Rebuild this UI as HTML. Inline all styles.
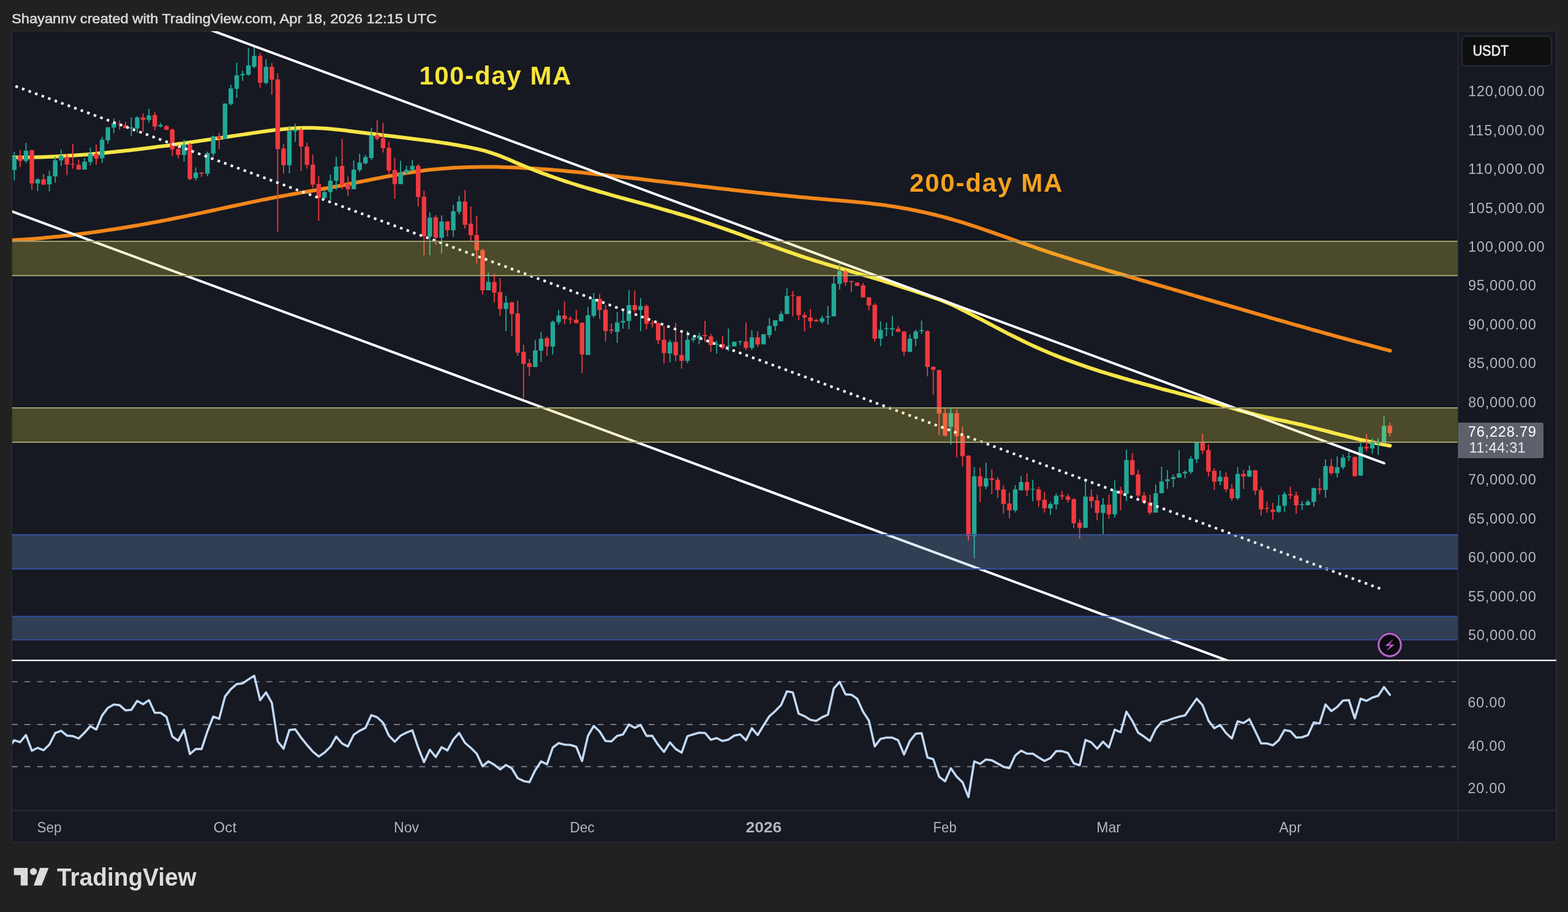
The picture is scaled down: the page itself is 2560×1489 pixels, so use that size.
<!DOCTYPE html><html><head><meta charset="utf-8"><title>BTC/USDT chart</title>
<style>html,body{margin:0;padding:0;background:#212121;width:2560px;height:1489px;overflow:hidden}svg{display:block}text{font-family:'Liberation Sans', Arial, Helvetica, sans-serif}</style></head><body>
<svg xmlns="http://www.w3.org/2000/svg" width="2560" height="1489" viewBox="0 0 2560 1489">
<defs><clipPath id="mainclip"><rect x="20" y="51" width="2360" height="1026"/></clipPath><clipPath id="rsiclip"><rect x="20" y="1079" width="2360" height="244"/></clipPath></defs>
<rect x="0" y="0" width="2560" height="1489" fill="#212121"/>
<text x="19" y="37.7" font-size="22.6" fill="#dadada" stroke="#dadada" stroke-width="0.55" textLength="694" lengthAdjust="spacingAndGlyphs">Shayannv created with TradingView.com, Apr 18, 2026 12:15 UTC</text>
<rect x="19.2" y="50.6" width="2521.6" height="1324.4" fill="#161922" stroke="#2b2d33" stroke-width="1.5"/>
<g clip-path="url(#mainclip)">
<path d="M19,392.3 C21,392.2 27,391.9 31,391.6 C35,391.4 39,391.1 43,390.8 C47,390.5 51,390.2 55,389.9 C59,389.6 63,389.2 67,388.9 C71,388.5 75,388.2 79,387.8 C83,387.4 87,387 91,386.6 C95,386.2 99,385.7 103,385.3 C107,384.9 111,384.5 115,384 C119,383.5 123,383 127,382.5 C131,382 135,381.5 139,381 C143,380.5 147,379.9 151,379.4 C155,378.8 159,378.3 163,377.7 C167,377.1 171,376.5 175,375.9 C179,375.3 183,374.7 187,374.1 C191,373.5 195,372.9 199,372.2 C203,371.5 207,370.9 211,370.2 C215,369.5 219,368.9 223,368.2 C227,367.5 231,366.8 235,366.1 C239,365.4 243,364.6 247,363.9 C251,363.2 255,362.4 259,361.7 C263,360.9 267,360.2 271,359.4 C275,358.6 279,357.8 283,357 C287,356.2 291,355.4 295,354.6 C299,353.8 303,352.9 307,352.1 C311,351.3 315,350.4 319,349.6 C323,348.8 327,348 331,347.1 C335,346.2 339,345.4 343,344.5 C347,343.6 351,342.8 355,341.9 C359,341 363,340.2 367,339.3 C371,338.4 375,337.6 379,336.7 C383,335.8 387,335 391,334.2 C395,333.4 399,332.5 403,331.6 C407,330.8 411,329.9 415,329.1 C419,328.3 423,327.4 427,326.6 C431,325.8 435,325.1 439,324.3 C443,323.5 447,322.7 451,321.9 C455,321.1 459,320.4 463,319.7 C467,319 471,318.2 475,317.5 C479,316.8 483,316.1 487,315.4 C491,314.7 495,314 499,313.3 C503,312.6 507,311.9 511,311.2 C515,310.5 519,309.8 523,309.1 C527,308.4 531,307.7 535,307 C539,306.3 543,305.5 547,304.8 C551,304.1 555,303.4 559,302.6 C563,301.8 567,301 571,300.2 C575,299.4 579,298.6 583,297.8 C587,297 591,296.2 595,295.4 C599,294.6 603,293.8 607,293 C611,292.2 615,291.4 619,290.6 C623,289.8 627,289.1 631,288.3 C635,287.6 639,286.8 643,286.1 C647,285.4 651,284.7 655,284 C659,283.3 663,282.6 667,282 C671,281.4 675,280.8 679,280.2 C683,279.6 687,279.1 691,278.6 C695,278.1 699,277.6 703,277.1 C707,276.7 711,276.3 715,275.9 C719,275.5 723,275.2 727,274.9 C731,274.6 735,274.4 739,274.1 C743,273.9 747,273.6 751,273.4 C755,273.2 759,273.1 763,273 C767,272.9 771,272.8 775,272.7 C779,272.6 783,272.5 787,272.5 C791,272.5 795,272.5 799,272.5 C803,272.5 807,272.5 811,272.6 C815,272.7 819,272.8 823,272.9 C827,273 831,273.1 835,273.3 C839,273.5 843,273.6 847,273.8 C851,274 855,274.2 859,274.4 C863,274.6 867,274.9 871,275.1 C875,275.4 879,275.6 883,275.9 C887,276.2 891,276.5 895,276.8 C899,277.1 903,277.5 907,277.8 C911,278.1 915,278.4 919,278.8 C923,279.2 927,279.6 931,280 C935,280.4 939,280.7 943,281.1 C947,281.5 951,281.9 955,282.3 C959,282.7 963,283.2 967,283.6 C971,284 975,284.5 979,284.9 C983,285.3 987,285.8 991,286.2 C995,286.6 999,287.1 1003,287.5 C1007,287.9 1011,288.4 1015,288.9 C1019,289.4 1023,289.9 1027,290.3 C1031,290.8 1035,291.2 1039,291.6 C1043,292.1 1047,292.5 1051,293 C1055,293.5 1059,293.9 1063,294.4 C1067,294.9 1071,295.4 1075,295.9 C1079,296.4 1083,296.8 1087,297.3 C1091,297.8 1095,298.2 1099,298.7 C1103,299.2 1107,299.6 1111,300.1 C1115,300.6 1119,301 1123,301.5 C1127,302 1131,302.5 1135,303 C1139,303.5 1143,303.9 1147,304.4 C1151,304.9 1155,305.3 1159,305.8 C1163,306.3 1167,306.7 1171,307.2 C1175,307.7 1179,308.1 1183,308.6 C1187,309.1 1191,309.6 1195,310 C1199,310.4 1203,310.9 1207,311.3 C1211,311.8 1215,312.2 1219,312.7 C1223,313.1 1227,313.6 1231,314 C1235,314.4 1239,314.9 1243,315.3 C1247,315.7 1251,316.2 1255,316.6 C1259,317 1263,317.4 1267,317.8 C1271,318.2 1275,318.7 1279,319.1 C1283,319.5 1287,319.9 1291,320.3 C1295,320.7 1299,321 1303,321.4 C1307,321.8 1311,322.2 1315,322.6 C1319,323 1323,323.4 1327,323.7 C1331,324 1335,324.3 1339,324.7 C1343,325.1 1347,325.4 1351,325.8 C1355,326.2 1359,326.5 1363,326.8 C1367,327.1 1371,327.5 1375,327.8 C1379,328.1 1383,328.5 1387,328.8 C1391,329.1 1395,329.5 1399,329.9 C1403,330.3 1407,330.7 1411,331.1 C1415,331.5 1419,331.9 1423,332.4 C1427,332.8 1431,333.3 1435,333.8 C1439,334.3 1443,334.8 1447,335.4 C1451,336 1455,336.6 1459,337.2 C1463,337.8 1467,338.5 1471,339.2 C1475,339.9 1479,340.6 1483,341.3 C1487,342.1 1491,342.9 1495,343.7 C1499,344.5 1503,345.3 1507,346.2 C1511,347.1 1515,348.1 1519,349 C1523,349.9 1527,350.9 1531,351.9 C1535,352.9 1539,353.9 1543,355 C1547,356.1 1551,357.2 1555,358.4 C1559,359.5 1563,360.7 1567,361.9 C1571,363.1 1575,364.4 1579,365.7 C1583,367 1587,368.2 1591,369.5 C1595,370.8 1599,372.1 1603,373.5 C1607,374.9 1611,376.2 1615,377.6 C1619,379 1623,380.4 1627,381.8 C1631,383.2 1635,384.6 1639,386 C1643,387.4 1647,388.9 1651,390.3 C1655,391.7 1659,393.1 1663,394.5 C1667,395.9 1671,397.4 1675,398.8 C1679,400.2 1683,401.6 1687,403 C1691,404.4 1695,405.8 1699,407.1 C1703,408.5 1707,409.8 1711,411.1 C1715,412.4 1719,413.8 1723,415.1 C1727,416.4 1731,417.6 1735,418.9 C1739,420.2 1743,421.4 1747,422.7 C1751,424 1755,425.2 1759,426.5 C1763,427.8 1767,429 1771,430.2 C1775,431.4 1779,432.6 1783,433.8 C1787,435 1791,436.2 1795,437.4 C1799,438.6 1803,439.8 1807,441 C1811,442.2 1815,443.3 1819,444.5 C1823,445.7 1827,446.8 1831,448 C1835,449.2 1839,450.3 1843,451.5 C1847,452.7 1851,453.8 1855,455 C1859,456.2 1863,457.3 1867,458.5 C1871,459.7 1875,460.8 1879,462 C1883,463.2 1887,464.4 1891,465.5 C1895,466.6 1899,467.8 1903,468.9 C1907,470 1911,471.2 1915,472.4 C1919,473.6 1923,474.7 1927,475.9 C1931,477.1 1935,478.2 1939,479.4 C1943,480.6 1947,481.8 1951,483 C1955,484.2 1959,485.3 1963,486.5 C1967,487.7 1971,488.8 1975,490 C1979,491.2 1983,492.3 1987,493.5 C1991,494.7 1995,495.8 1999,497 C2003,498.2 2007,499.4 2011,500.5 C2015,501.6 2019,502.8 2023,503.9 C2027,505 2031,506.2 2035,507.4 C2039,508.6 2043,509.7 2047,510.9 C2051,512.1 2055,513.2 2059,514.4 C2063,515.5 2067,516.6 2071,517.8 C2075,518.9 2079,520.1 2083,521.3 C2087,522.4 2091,523.6 2095,524.7 C2099,525.8 2103,527 2107,528.1 C2111,529.2 2115,530.4 2119,531.5 C2123,532.6 2127,533.8 2131,534.9 C2135,536 2139,537.2 2143,538.3 C2147,539.4 2151,540.6 2155,541.7 C2159,542.8 2163,543.9 2167,545 C2171,546.1 2175,547.2 2179,548.3 C2183,549.4 2187,550.5 2191,551.6 C2195,552.7 2199,553.8 2203,554.9 C2207,556 2211,557 2215,558.1 C2219,559.2 2223,560.2 2227,561.3 C2231,562.4 2235,563.4 2239,564.5 C2243,565.6 2247,566.6 2251,567.7 C2255,568.8 2259.9,570.1 2263,570.9 C2266.1,571.7 2268.5,572.3 2269.6,572.6" fill="none" stroke="#f2861a" stroke-width="6" stroke-linecap="round" stroke-linejoin="round"/>
<path d="M19,257 C21,257 27,257 31,257 C35,257 39,256.9 43,256.9 C47,256.8 51,256.8 55,256.7 C59,256.6 63,256.5 67,256.4 C71,256.3 75,256.2 79,256 C83,255.8 87,255.6 91,255.4 C95,255.2 99,255 103,254.8 C107,254.6 111,254.3 115,254.1 C119,253.8 123,253.6 127,253.3 C131,253 135,252.7 139,252.4 C143,252.1 147,251.8 151,251.4 C155,251.1 159,250.7 163,250.3 C167,249.9 171,249.6 175,249.2 C179,248.8 183,248.4 187,248 C191,247.6 195,247.1 199,246.7 C203,246.3 207,245.8 211,245.4 C215,245 219,244.5 223,244 C227,243.5 231,243 235,242.5 C239,242 243,241.5 247,241 C251,240.5 255,239.9 259,239.4 C263,238.9 267,238.4 271,237.9 C275,237.4 279,236.8 283,236.2 C287,235.6 291,235.1 295,234.6 C299,234.1 303,233.5 307,232.9 C311,232.3 315,231.7 319,231.1 C323,230.5 327,230 331,229.4 C335,228.8 339,228.2 343,227.6 C347,227 351,226.4 355,225.8 C359,225.2 363,224.7 367,224.1 C371,223.5 375,222.9 379,222.3 C383,221.7 387,221.1 391,220.5 C395,219.9 399,219.3 403,218.7 C407,218.1 411,217.5 415,216.9 C419,216.3 423,215.7 427,215.1 C431,214.5 435,214 439,213.5 C443,213 447,212.4 451,212 C455,211.6 459,211.2 463,210.8 C467,210.4 471,210 475,209.7 C479,209.4 483,209.2 487,209 C491,208.8 495,208.7 499,208.7 C503,208.7 507,208.7 511,208.8 C515,208.9 519,209.1 523,209.3 C527,209.5 531,209.8 535,210.1 C539,210.4 543,210.8 547,211.2 C551,211.6 555,212.1 559,212.5 C563,212.9 567,213.4 571,213.9 C575,214.4 579,214.9 583,215.4 C587,215.9 591,216.5 595,217 C599,217.5 603,218 607,218.5 C611,219 615,219.4 619,219.9 C623,220.4 627,220.9 631,221.4 C635,221.9 639,222.3 643,222.8 C647,223.3 651,223.7 655,224.2 C659,224.7 663,225.2 667,225.7 C671,226.2 675,226.7 679,227.2 C683,227.7 687,228.2 691,228.7 C695,229.2 699,229.8 703,230.3 C707,230.9 711,231.4 715,232 C719,232.6 723,233.2 727,233.8 C731,234.4 735,235 739,235.7 C743,236.3 747,237 751,237.7 C755,238.4 759,239.1 763,239.9 C767,240.7 771,241.5 775,242.4 C779,243.3 783,244.2 787,245.2 C791,246.2 795,247.4 799,248.6 C803,249.8 807,251.2 811,252.6 C815,254 819,255.6 823,257.2 C827,258.8 831,260.6 835,262.3 C839,264 843,265.8 847,267.5 C851,269.2 855,270.9 859,272.5 C863,274.1 867,275.7 871,277.3 C875,278.9 879,280.4 883,281.9 C887,283.4 891,284.9 895,286.3 C899,287.7 903,289.1 907,290.5 C911,291.9 915,293.3 919,294.6 C923,295.9 927,297.2 931,298.5 C935,299.8 939,301.1 943,302.3 C947,303.6 951,304.8 955,306 C959,307.2 963,308.3 967,309.5 C971,310.7 975,311.9 979,313 C983,314.1 987,315.3 991,316.4 C995,317.5 999,318.7 1003,319.8 C1007,320.9 1011,322 1015,323.1 C1019,324.2 1023,325.3 1027,326.4 C1031,327.5 1035,328.5 1039,329.6 C1043,330.7 1047,331.8 1051,332.9 C1055,334 1059,335.1 1063,336.2 C1067,337.3 1071,338.5 1075,339.6 C1079,340.7 1083,341.9 1087,343 C1091,344.1 1095,345.3 1099,346.5 C1103,347.7 1107,348.8 1111,350 C1115,351.2 1119,352.5 1123,353.7 C1127,354.9 1131,356.1 1135,357.4 C1139,358.7 1143,360 1147,361.3 C1151,362.6 1155,363.9 1159,365.3 C1163,366.7 1167,368.1 1171,369.5 C1175,370.9 1179,372.3 1183,373.7 C1187,375.1 1191,376.5 1195,377.9 C1199,379.3 1203,380.8 1207,382.2 C1211,383.6 1215,385.1 1219,386.6 C1223,388.1 1227,389.6 1231,391 C1235,392.4 1239,393.9 1243,395.3 C1247,396.8 1251,398.2 1255,399.7 C1259,401.1 1263,402.6 1267,404 C1271,405.4 1275,406.9 1279,408.3 C1283,409.7 1287,411 1291,412.4 C1295,413.8 1299,415.2 1303,416.6 C1307,418 1311,419.3 1315,420.6 C1319,421.9 1323,423.1 1327,424.4 C1331,425.7 1335,427 1339,428.2 C1343,429.4 1347,430.6 1351,431.8 C1355,433 1359,434.2 1363,435.4 C1367,436.6 1371,437.8 1375,438.9 C1379,440 1383,441.1 1387,442.3 C1391,443.5 1395,444.6 1399,445.8 C1403,447 1407,448.1 1411,449.3 C1415,450.5 1419,451.7 1423,452.9 C1427,454.1 1431,455.3 1435,456.5 C1439,457.7 1443,459 1447,460.3 C1451,461.6 1455,462.8 1459,464.1 C1463,465.4 1467,466.8 1471,468.1 C1475,469.4 1479,470.7 1483,472 C1487,473.3 1491,474.7 1495,476 C1499,477.3 1503,478.7 1507,480 C1511,481.3 1515,482.6 1519,484 C1523,485.4 1527,486.7 1531,488.1 C1535,489.5 1539,491 1543,492.6 C1547,494.2 1551,496 1555,497.9 C1559,499.8 1563,501.8 1567,503.8 C1571,505.8 1575,507.8 1579,509.8 C1583,511.8 1587,513.9 1591,516 C1595,518.1 1599,520.1 1603,522.2 C1607,524.3 1611,526.4 1615,528.5 C1619,530.6 1623,532.7 1627,534.8 C1631,536.9 1635,539 1639,541.1 C1643,543.2 1647,545.3 1651,547.3 C1655,549.3 1659,551.3 1663,553.3 C1667,555.3 1671,557.2 1675,559.1 C1679,561 1683,562.9 1687,564.7 C1691,566.5 1695,568.4 1699,570.1 C1703,571.9 1707,573.5 1711,575.2 C1715,576.9 1719,578.5 1723,580.1 C1727,581.7 1731,583.4 1735,584.9 C1739,586.4 1743,587.9 1747,589.4 C1751,590.9 1755,592.3 1759,593.7 C1763,595.1 1767,596.5 1771,597.9 C1775,599.3 1779,600.6 1783,601.9 C1787,603.2 1791,604.5 1795,605.8 C1799,607.1 1803,608.3 1807,609.5 C1811,610.7 1815,612 1819,613.2 C1823,614.4 1827,615.6 1831,616.7 C1835,617.9 1839,619 1843,620.1 C1847,621.2 1851,622.4 1855,623.5 C1859,624.6 1863,625.7 1867,626.8 C1871,627.9 1875,628.9 1879,630 C1883,631.1 1887,632.2 1891,633.3 C1895,634.4 1899,635.5 1903,636.5 C1907,637.5 1911,638.6 1915,639.6 C1919,640.6 1923,641.7 1927,642.8 C1931,643.9 1935,644.9 1939,646 C1943,647.1 1947,648.1 1951,649.2 C1955,650.3 1959,651.4 1963,652.5 C1967,653.6 1971,654.7 1975,655.8 C1979,656.9 1983,658.1 1987,659.2 C1991,660.3 1995,661.5 1999,662.6 C2003,663.8 2007,664.9 2011,666.1 C2015,667.3 2019,668.5 2023,669.6 C2027,670.8 2031,671.9 2035,673 C2039,674.1 2043,675.2 2047,676.2 C2051,677.2 2055,678.2 2059,679.2 C2063,680.2 2067,681.1 2071,682 C2075,682.9 2079,683.8 2083,684.6 C2087,685.4 2091,686.2 2095,687 C2099,687.8 2103,688.7 2107,689.6 C2111,690.5 2115,691.4 2119,692.3 C2123,693.2 2127,694.1 2131,695.1 C2135,696.1 2139,697.1 2143,698.1 C2147,699.1 2151,700.1 2155,701.1 C2159,702.1 2163,703.2 2167,704.2 C2171,705.2 2175,706.3 2179,707.3 C2183,708.3 2187,709.4 2191,710.4 C2195,711.4 2199,712.4 2203,713.4 C2207,714.4 2211,715.3 2215,716.3 C2219,717.3 2223,718.3 2227,719.2 C2231,720.1 2235,720.9 2239,721.8 C2243,722.6 2247,723.5 2251,724.3 C2255,725.1 2259.9,726 2263,726.6 C2266.1,727.2 2268.3,727.5 2269.4,727.7" fill="none" stroke="#f7e548" stroke-width="6" stroke-linecap="round" stroke-linejoin="round"/>
<path d="M23.3 247.7V294.5M42.4 233.3V266M61.5 291.2V311.9M80.6 278.6V312.5M90.2 255.7V298.3M99.8 244.2V271M138 258.4V277M147.5 241V270M166.7 223.5V266M176.2 207.7V234.4M185.8 193.5V217.5M214.4 191.8V222.4M224 190.1V216.3M243.1 177.5V200M262.2 200.4V208.1M300.5 227.8V263.8M319.6 273.6V294.9M338.7 247.4V287.5M348.2 221.2V255.6M367.4 168.8V226.9M376.9 138.2V172.1M386.5 102.2V159.8M396 115.6V132M405.6 78.3V123.5M415.1 73.9V111.5M434.3 97.3V137.7M472.5 205.4V282.9M482 202.1V231.6M529.8 311.3V325.5M539.4 285.1V326.6M548.9 256V310.2M577.6 262.1V309.1M587.2 251.2V280.7M596.7 252.7V268.7M606.3 208.4V261.6M654.1 262.4V300.6M663.6 270.4V284.6M673.2 261.6V279.3M701.8 346.7V416.7M721 351.6V414M740.1 334.3V386.6M749.6 319.7V350.2M797.4 445V474M826.1 482.8V540.5M873.9 555.4V599.3M883.4 541.4V591.1M902.5 523.3V578.7M912.1 506V530M959.9 501.3V579.6M969.4 478.4V518.5M1007.7 509.4V559.7M1017.2 506.9V536.4M1026.8 473.4V537.6M1045.9 486.7V540.7M1093.7 554.8V591.6M1122.4 540.1V592.9M1131.9 548V558.5M1141.5 543.1V562.2M1170.1 556.3V577.2M1189.3 536.6V573.5M1198.8 557.5V565.5M1208.4 555.7V563.6M1227.5 539.1V571.6M1246.6 545.2V562.2M1256.2 519.2V552M1265.7 522.5V540.3M1275.3 508.2V524.4M1284.8 470.3V512.7M1342.2 515.2V528M1351.7 499.8V529.9M1361.3 449.7V517.2M1370.8 431.3V472.8M1437.7 524.4V565.3M1447.3 526.4V549M1456.8 515.8V549M1485.5 545.9V574.6M1495.1 538.3V565.3M1504.6 523.4V545.3M1552.4 665.8V726M1590.6 762.3V911.3M1609.8 755.6V798.5M1657.5 791.9V836.8M1667.1 777.5V800.5M1686.2 783.3V818.6M1714.9 819.6V840.6M1724.4 805.8V832M1772.2 783.9V861.7M1800.9 813.2V871.9M1820 784.3V845.3M1839.1 734.1V818M1886.9 790.7V837.1M1896.5 762.1V805.3M1906 767.5V798.2M1915.6 774.8V795.5M1925.1 735V779.8M1934.7 768.1V781M1944.3 744.8V773.7M1953.8 721.1V755.9M1992 768.1V792.1M2020.7 762.6V816.6M2039.8 759.9V779.2M2087.6 808V837.5M2097.2 803.1V835.7M2125.8 818.3V832.6M2135.4 816.6V825.1M2145 795.7V827.1M2164.1 750V812.8M2183.2 745.3V779.4M2192.7 741.9V766.4M2202.3 737.8V752.8M2221.4 722.1V776.6M2240.5 715.9V740.5M2250.1 715.3V742.5M2259.6 679.1V724.1" stroke="#22a897" stroke-width="1.8" fill="none"/>
<path d="M32.9 244.8V272.6M52 244.8V309.7M71.1 284V301.6M109.3 250.8V286.3M118.9 235V275.3M128.4 260.6V277M157.1 236V268.8M195.3 196.7V212M204.9 199V209.3M233.6 185.2V215.5M252.7 183.1V213M271.8 204.4V211.9M281.3 209.8V254.8M290.9 236.8V258.9M310 233.5V294M329.1 281V289.1M357.8 217.1V243.3M424.7 86.4V143.1M443.8 102.8V154.7M453.4 119.8V378.3M462.9 235.5V283.5M491.6 208.6V279.6M501.2 232.7V275.2M510.7 252.3V306.9M520.3 287.2V360.4M558.5 226.8V309.1M568 288.3V320M615.8 196.3V229.6M625.4 200.4V249.1M634.9 231.4V283.7M644.5 257.7V324.5M682.7 268.1V336.9M692.3 311.2V416.7M711.4 351.1V399.9M730.5 360.9V386.6M759.2 310.3V373.3M768.7 336.9V392.8M778.3 352V430M787.9 406.4V480.9M807 446.9V493.7M816.5 454.1V516M835.6 492.7V549M845.2 491.2V581M854.8 563V650.3M864.3 586.3V614M893 549.6V581M921.7 492.3V529M931.2 516.6V529M940.8 506V527.5M950.3 526.1V609.2M979 479.9V520.4M988.6 497.7V557.2M998.1 528.2V545M1036.3 474.1V510.6M1055.5 497.1V537.6M1065 523.5V534.5M1074.6 525.9V562.2M1084.1 531.5V593.2M1103.2 527.2V589.8M1112.8 540.1V602.1M1151 524.1V557.9M1160.6 545.3V574.4M1179.7 548.3V570.4M1217.9 526.2V571.6M1237 540.9V566.1M1294.4 475.2V516.4M1303.9 483.6V522.5M1313.5 510.2V540.9M1323.1 504.7V536M1332.6 520.7V525.6M1380.4 440.5V466.7M1390 457.9V476.9M1399.5 460.9V466.7M1409.1 462V485.5M1418.6 485.1V507M1428.2 495.3V558.2M1466.4 532.2V541.8M1476 540.8V580.7M1514.2 539.8V614.5M1523.7 598.1V644.2M1533.3 603.8V710.7M1542.9 665.8V712.6M1562 668.7V746.6M1571.5 696.4V761.3M1581.1 743.2V882.6M1600.2 763.2V819.6M1619.3 766V807.1M1628.9 778.5V812.9M1638.4 792.8V838.7M1648 804.3V846.3M1676.7 772.8V810M1695.8 794.7V827.2M1705.3 803.3V836.8M1734 801.4V815.7M1743.6 806.4V820.7M1753.1 813.2V862.3M1762.7 848V879.4M1781.8 798.9V828.9M1791.3 807.8V849.4M1810.5 807.8V847.3M1829.6 794.8V833M1848.7 739.8V776.4M1858.2 767.1V812.6M1867.8 803V823.5M1877.4 807.8V840.5M1963.4 708.6V741.1M1972.9 725.8V778M1982.5 764.5V800.1M2001.6 771.2V803.1M2011.2 790.2V817.9M2030.3 767.3V798.2M2049.4 766.9V808.3M2058.9 795.5V841.8M2068.5 818.8V836.9M2078.1 820.9V848.6M2106.7 794.4V814.8M2116.3 802.6V838.7M2154.5 780.7V806.7M2173.6 749.4V775.3M2211.9 745.3V778.7M2231 708.4V737.1M2269.2 690V712.5" stroke="#f0393f" stroke-width="1.8" fill="none"/>
<path d="M19.6 255.2h7.4v22.3h-7.4zM38.7 245.9h7.4v16.9h-7.4zM57.8 292.8h7.4v6.6h-7.4zM76.9 287.4h7.4v13.6h-7.4zM86.5 261.7h7.4v26.2h-7.4zM96.1 254h7.4v7.7h-7.4zM134.3 263.9h7.4v13.1h-7.4zM143.8 250.8h7.4v13.6h-7.4zM163 227.9h7.4v30.5h-7.4zM172.5 207.7h7.4v21.3h-7.4zM182.1 201h7.4v7.2h-7.4zM210.7 208h7.4v1.8h-7.4zM220.3 191.8h7.4v18h-7.4zM239.4 188.5h7.4v7.3h-7.4zM258.5 204h7.4v2.2h-7.4zM296.8 236h7.4v17.1h-7.4zM315.9 281.8h7.4v9h-7.4zM335 249.9h7.4v33.5h-7.4zM344.5 222.8h7.4v27.9h-7.4zM363.7 169.3h7.4v57.6h-7.4zM373.2 144.3h7.4v25.4h-7.4zM382.8 123h7.4v22.1h-7.4zM392.3 120.9h7.4v2.1h-7.4zM401.9 106.7h7.4v15.3h-7.4zM411.4 91.2h7.4v17.7h-7.4zM430.6 108.9h7.4v26.6h-7.4zM468.8 214.1h7.4v55.7h-7.4zM478.3 211.5h7.4v3h-7.4zM526.1 313.4h7.4v9.9h-7.4zM535.7 294.9h7.4v18.5h-7.4zM545.2 272h7.4v22.9h-7.4zM573.9 277h7.4v32.1h-7.4zM583.5 265.4h7.4v12h-7.4zM593 256.6h7.4v9.9h-7.4zM602.6 220.4h7.4v37.6h-7.4zM650.4 282h7.4v18.6h-7.4zM659.9 277.2h7.4v4.8h-7.4zM669.5 270.8h7.4v6.7h-7.4zM698.1 355.2h7.4v31.4h-7.4zM717.3 361.7h7.4v26.6h-7.4zM736.4 344.9h7.4v31h-7.4zM745.9 328.9h7.4v16.9h-7.4zM793.7 460.2h7.4v13.8h-7.4zM822.4 494.2h7.4v10.3h-7.4zM870.2 572h7.4v27.3h-7.4zM879.7 552.9h7.4v19.7h-7.4zM898.8 525.6h7.4v40.1h-7.4zM908.4 515.2h7.4v10.9h-7.4zM956.2 514.7h7.4v64.9h-7.4zM965.7 487.9h7.4v27.7h-7.4zM1004 526.6h7.4v15.3h-7.4zM1013.5 523.9h7.4v2.7h-7.4zM1023.1 498h7.4v26.1h-7.4zM1042.2 499.8h7.4v6.5h-7.4zM1090 558.5h7.4v18.4h-7.4zM1118.7 554.8h7.4v34.4h-7.4zM1128.2 552.3h7.4v2.5h-7.4zM1137.8 548h7.4v4.3h-7.4zM1166.4 561.8h7.4v1.2h-7.4zM1185.6 564.3h7.4v1.2h-7.4zM1195.1 558.1h7.4v7.4h-7.4zM1204.7 556.9h7.4v1.2h-7.4zM1223.8 550.8h7.4v17.2h-7.4zM1242.9 545.8h7.4v16.4h-7.4zM1252.5 532h7.4v15.1h-7.4zM1262 523.1h7.4v9.2h-7.4zM1271.6 512.7h7.4v11.7h-7.4zM1281.1 483.2h7.4v29.5h-7.4zM1338.5 519.4h7.4v6.2h-7.4zM1348 516.4h7.4v1.8h-7.4zM1357.6 463h7.4v53.2h-7.4zM1367.1 442.5h7.4v20.9h-7.4zM1434 538.7h7.4v14.4h-7.4zM1443.6 535.7h7.4v1.4h-7.4zM1453.1 535.7h7.4v2h-7.4zM1481.8 553.1h7.4v21.5h-7.4zM1491.4 541.2h7.4v11.9h-7.4zM1500.9 538.7h7.4v1.7h-7.4zM1548.7 674.4h7.4v22.5h-7.4zM1586.9 777.5h7.4v97.5h-7.4zM1606.1 781h7.4v13.3h-7.4zM1653.8 798.9h7.4v34.4h-7.4zM1663.4 787.1h7.4v13.4h-7.4zM1682.5 798.2h7.4v1.3h-7.4zM1711.2 823h7.4v7.1h-7.4zM1720.7 809.6h7.4v13.8h-7.4zM1768.5 810.8h7.4v50.9h-7.4zM1797.2 824.1h7.4v13.4h-7.4zM1816.3 800.3h7.4v39.5h-7.4zM1835.4 751.2h7.4v55.2h-7.4zM1883.2 805.3h7.4v31.8h-7.4zM1892.8 786.2h7.4v19.1h-7.4zM1902.3 782.5h7.4v3.2h-7.4zM1911.9 779.1h7.4v2.8h-7.4zM1921.4 773h7.4v6.8h-7.4zM1931 770.6h7.4v2.4h-7.4zM1940.6 749.1h7.4v21.5h-7.4zM1950.1 721.1h7.4v28.6h-7.4zM1988.3 778.6h7.4v7.3h-7.4zM2017 773.7h7.4v39.9h-7.4zM2036.1 768.1h7.4v9.9h-7.4zM2083.9 825.8h7.4v9.9h-7.4zM2093.5 806.8h7.4v19h-7.4zM2122.1 823h7.4v1.4h-7.4zM2131.7 818.9h7.4v6.2h-7.4zM2141.3 797.1h7.4v22.5h-7.4zM2160.4 761h7.4v38.8h-7.4zM2179.5 763h7.4v9.6h-7.4zM2189 747.3h7.4v15.7h-7.4zM2198.6 745.3h7.4v1.3h-7.4zM2217.7 729.6h7.4v47h-7.4zM2236.8 722.8h7.4v9.5h-7.4zM2246.4 722.1h7.4v2h-7.4zM2255.9 695.2h7.4v26.2h-7.4z" fill="#22a897"/>
<path d="M29.2 254.6h7.4v8.2h-7.4zM48.3 245.3h7.4v54.1h-7.4zM67.4 292.8h7.4v8.8h-7.4zM105.6 256.2h7.4v12.6h-7.4zM115.2 267.7h7.4v1.2h-7.4zM124.7 269.3h7.4v7.7h-7.4zM153.4 250.8h7.4v8.2h-7.4zM191.6 201.7h7.4v1.2h-7.4zM201.2 204.4h7.4v4.9h-7.4zM229.9 191.8h7.4v4h-7.4zM249 187.7h7.4v18.8h-7.4zM268.1 205.7h7.4v6.2h-7.4zM277.6 211.4h7.4v32.7h-7.4zM287.2 243.3h7.4v9.8h-7.4zM306.3 236h7.4v56.4h-7.4zM325.4 281.8h7.4v1.6h-7.4zM354.1 222.8h7.4v4.1h-7.4zM421 91.2h7.4v43.9h-7.4zM440.1 108.9h7.4v21.1h-7.4zM449.7 129.4h7.4v114.2h-7.4zM459.2 242.5h7.4v27.3h-7.4zM487.9 211.9h7.4v27.3h-7.4zM497.5 239.2h7.4v29.9h-7.4zM507 268.7h7.4v32.7h-7.4zM516.6 300.3h7.4v23h-7.4zM554.8 270.9h7.4v30.5h-7.4zM564.3 300.3h7.4v8.8h-7.4zM612.1 220.4h7.4v6.1h-7.4zM621.7 225.7h7.4v16.3h-7.4zM631.2 241.2h7.4v37.2h-7.4zM640.8 277.5h7.4v23.1h-7.4zM679 270.8h7.4v51h-7.4zM688.6 321h7.4v64.7h-7.4zM707.7 354.6h7.4v33.7h-7.4zM726.8 361.7h7.4v14.2h-7.4zM755.5 328.9h7.4v38.2h-7.4zM765 365.3h7.4v18.6h-7.4zM774.6 383.5h7.4v25.2h-7.4zM784.2 408.3h7.4v65.7h-7.4zM803.3 460.2h7.4v17.6h-7.4zM812.8 477h7.4v27.5h-7.4zM831.9 493.7h7.4v19.1h-7.4zM841.5 511.8h7.4v64h-7.4zM851.1 574.5h7.4v19.5h-7.4zM860.6 593h7.4v6.3h-7.4zM889.3 551.9h7.4v13.8h-7.4zM918 515.2h7.4v5.8h-7.4zM927.5 520h7.4v1.4h-7.4zM937.1 521.7h7.4v5.8h-7.4zM946.6 527.1h7.4v51.6h-7.4zM975.3 487.9h7.4v18.4h-7.4zM984.9 505.7h7.4v34.7h-7.4zM994.4 538.2h7.4v1.9h-7.4zM1032.6 498h7.4v8.3h-7.4zM1051.8 499.5h7.4v28.9h-7.4zM1061.3 527.4h7.4v1.2h-7.4zM1070.9 527.4h7.4v28h-7.4zM1080.4 554.8h7.4v21.7h-7.4zM1099.5 558.5h7.4v21.5h-7.4zM1109.1 579.4h7.4v9.8h-7.4zM1147.3 546.8h7.4v1.9h-7.4zM1156.9 549.3h7.4v14.1h-7.4zM1176 561.8h7.4v6.2h-7.4zM1214.2 557.5h7.4v10.5h-7.4zM1233.3 550.8h7.4v11.6h-7.4zM1290.7 482h7.4v1.2h-7.4zM1300.2 483.8h7.4v30.7h-7.4zM1309.8 514.5h7.4v3.7h-7.4zM1319.4 518.2h7.4v6.2h-7.4zM1328.9 522.5h7.4v1.9h-7.4zM1376.7 442.9h7.4v18h-7.4zM1386.3 458.9h7.4v1.6h-7.4zM1395.8 461.6h7.4v5.1h-7.4zM1405.4 466h7.4v19.5h-7.4zM1414.9 485.5h7.4v13.3h-7.4zM1424.5 497.8h7.4v55.3h-7.4zM1462.7 536.7h7.4v5.1h-7.4zM1472.3 541.2h7.4v32.7h-7.4zM1510.5 540.4h7.4v58.7h-7.4zM1520 599.1h7.4v4.7h-7.4zM1529.6 604.2h7.4v70.7h-7.4zM1539.2 674.4h7.4v37.2h-7.4zM1558.3 674.4h7.4v37.8h-7.4zM1567.8 710.7h7.4v34h-7.4zM1577.4 744.1h7.4v130.9h-7.4zM1596.5 777.5h7.4v16.8h-7.4zM1615.6 781h7.4v2.6h-7.4zM1625.2 783.3h7.4v16.8h-7.4zM1634.7 798.9h7.4v24.1h-7.4zM1644.3 821.9h7.4v11.4h-7.4zM1673 787.1h7.4v13.4h-7.4zM1692.1 798.9h7.4v17.8h-7.4zM1701.6 815.7h7.4v14.4h-7.4zM1730.3 808.5h7.4v1.9h-7.4zM1739.9 810.5h7.4v5.5h-7.4zM1749.4 814.9h7.4v39.3h-7.4zM1759 853.5h7.4v8.2h-7.4zM1778.1 810.8h7.4v7.2h-7.4zM1787.6 817h7.4v20.5h-7.4zM1806.8 824.1h7.4v15.7h-7.4zM1825.9 800.7h7.4v5.7h-7.4zM1845 751.2h7.4v23.8h-7.4zM1854.5 774.4h7.4v34.7h-7.4zM1864.1 809.1h7.4v11h-7.4zM1873.7 820.1h7.4v17h-7.4zM1959.7 722.1h7.4v13.5h-7.4zM1969.2 735h7.4v35h-7.4zM1978.8 768.8h7.4v17.8h-7.4zM1997.9 778.6h7.4v20.2h-7.4zM2007.5 798h7.4v15.6h-7.4zM2026.6 773.7h7.4v4.3h-7.4zM2045.7 768.1h7.4v32.8h-7.4zM2055.2 800.1h7.4v31.3h-7.4zM2064.8 829.2h7.4v1.6h-7.4zM2074.4 832h7.4v3.7h-7.4zM2103 806.7h7.4v2h-7.4zM2112.6 808.7h7.4v16.4h-7.4zM2150.8 797.8h7.4v2h-7.4zM2169.9 761h7.4v11.6h-7.4zM2208.2 746.2h7.4v31.1h-7.4zM2227.3 729.6h7.4v2.7h-7.4zM2265.5 695.2h7.4v11.9h-7.4z" fill="#f0393f"/>
<line x1="300" y1="32.8" x2="2260" y2="756.3" stroke="#ffffff" stroke-width="4" stroke-linecap="round"/>
<line x1="0" y1="337.9" x2="2100" y2="1114" stroke="#ffffff" stroke-width="4" stroke-linecap="round"/>
<line x1="19" y1="138.4" x2="2254" y2="961.3" stroke="#ffffff" stroke-width="4.2" stroke-dasharray="4.2 7.14" stroke-dashoffset="-6.7"/>
<rect x="20" y="394" width="2360" height="56" fill="rgba(255,237,74,0.232)"/>
<path d="M20 394H2380M20 450H2380" stroke="#a09e6c" stroke-width="1.8"/>
<rect x="20" y="666" width="2360" height="56" fill="rgba(255,237,74,0.232)"/>
<path d="M20 666H2380M20 722H2380" stroke="#a09e6c" stroke-width="1.8"/>
<rect x="20" y="873" width="2360" height="56" fill="rgba(140,186,245,0.24)"/>
<path d="M20 873H2380M20 929H2380" stroke="#354e9c" stroke-width="1.8"/>
<rect x="20" y="1006.5" width="2360" height="38" fill="rgba(140,186,245,0.24)"/>
<path d="M20 1006.5H2380M20 1044.5H2380" stroke="#354e9c" stroke-width="1.8"/>
</g>
<text x="684.4" y="138.2" font-size="42" font-weight="bold" fill="#f7e53b" stroke="#1a1a10" stroke-width="0.8" paint-order="stroke" textLength="248" lengthAdjust="spacing">100-day MA</text>
<text x="1485" y="313" font-size="42" font-weight="bold" fill="#f5a11f" stroke="#1a1208" stroke-width="0.8" paint-order="stroke" textLength="249.4" lengthAdjust="spacing">200-day MA</text>
<circle cx="2269" cy="1053" r="20.5" fill="#0b0a0f" stroke="#3a0b48" stroke-width="1"/>
<circle cx="2269" cy="1053" r="18.3" fill="none" stroke="#b468c6" stroke-width="3.2"/>
<path d="M2275.1 1043.4L2261.3 1054.6H2270.1L2263.2 1063.5L2277 1052.5H2268.2Z" fill="#bb62d4"/>
<rect x="19" y="1077" width="2522" height="2.2" fill="#f4f4f6"/>
<g clip-path="url(#rsiclip)">
<line x1="19" y1="1113" x2="2377" y2="1113" stroke="#868991" stroke-width="1.7" stroke-dasharray="9.6 11.2"/>
<line x1="19" y1="1182.8" x2="2377" y2="1182.8" stroke="#868991" stroke-width="1.7" stroke-dasharray="9.6 11.2"/>
<line x1="19" y1="1251.6" x2="2377" y2="1251.6" stroke="#868991" stroke-width="1.7" stroke-dasharray="9.6 11.2"/>
<polyline points="13.7,1222 23.3,1208.6 32.9,1211.7 42.4,1200.2 52,1225.7 61.5,1221 71.1,1224.8 80.6,1215.7 90.2,1196.7 99.8,1193.1 109.3,1201 118.9,1201.9 128.4,1205.7 138,1196.2 147.5,1185.5 157.1,1191.2 166.7,1168.1 176.2,1155.7 185.8,1150.2 195.3,1151.4 204.9,1159.8 214.4,1159 224,1144.3 233.6,1149.8 243.1,1143.1 252.7,1163.8 262.2,1163.8 271.8,1170.5 281.3,1202.6 290.9,1209.3 300.5,1191.4 310,1231.2 319.6,1222.9 329.1,1222.9 338.7,1193.8 348.2,1170 357.8,1173.6 367.4,1137.1 376.9,1125.2 386.5,1116.9 396,1115.7 405.6,1109.3 415.1,1103.3 424.7,1143.1 434.3,1130.5 443.8,1147.4 453.4,1210.5 462.9,1222.4 472.5,1191.9 482,1190.7 491.6,1204.3 501.2,1216.2 510.7,1227.1 520.3,1235.2 529.8,1228.8 539.4,1219.3 548.9,1202.6 558.5,1213.8 568,1218.8 577.6,1199.5 587.2,1193.1 596.7,1188.3 606.3,1167.6 615.8,1171 625.4,1180 634.9,1201 644.5,1211 654.1,1201 663.6,1196.2 673.2,1192.4 682.7,1220.5 692.3,1244.3 701.8,1224 711.4,1236 721,1220 730.5,1225.2 740.1,1207.4 749.6,1196.7 759.2,1212.9 768.7,1221 778.3,1230.5 787.9,1251 797.4,1243 807,1248.6 816.5,1256.2 826.1,1249 835.6,1254.5 845.2,1270.5 854.8,1275.2 864.3,1277.1 873.9,1257.4 883.4,1243.1 893,1247.9 902.5,1220.5 912.1,1213.3 921.7,1215.7 931.2,1216.2 940.8,1219.3 950.3,1242.6 959.9,1201.4 969.4,1185.2 979,1194.3 988.6,1209.8 998.1,1210.5 1007.7,1201.4 1017.2,1199 1026.8,1182.9 1036.3,1188.3 1045.9,1183.6 1055.5,1201.4 1065,1201.4 1074.6,1216.2 1084.1,1227.6 1093.7,1212.1 1103.2,1222.9 1112.8,1228.8 1122.4,1201.9 1131.9,1199 1141.5,1196.2 1151,1196.7 1160.6,1207.9 1170.1,1205 1179.7,1209.8 1189.3,1207.4 1198.8,1201 1208.4,1199 1217.9,1208.6 1227.5,1189 1237,1200.2 1246.6,1184.3 1256.2,1169.3 1265.7,1161 1275.3,1151 1284.8,1128.8 1294.4,1130.5 1303.9,1165.2 1313.5,1169.3 1323.1,1175.2 1332.6,1177.1 1342.2,1171 1351.7,1166.9 1361.3,1124 1370.8,1113.3 1380.4,1133.6 1390,1134.3 1399.5,1140.7 1409.1,1162.1 1418.6,1176.4 1428.2,1218.6 1437.7,1206.2 1447.3,1204.3 1456.8,1204.3 1466.4,1208.6 1476,1231.9 1485.5,1209.8 1495.1,1197.9 1504.6,1197.1 1514.2,1236.7 1523.7,1239.5 1533.3,1268.1 1542.9,1275.7 1552.4,1254.3 1562,1268.1 1571.5,1277.1 1581.1,1301.4 1590.6,1243.1 1600.2,1247.1 1609.8,1240 1619.3,1241.4 1628.9,1246.7 1638.4,1251.9 1648,1254.3 1657.5,1233.6 1667.1,1225.7 1676.7,1230.5 1686.2,1230.5 1695.8,1236.7 1705.3,1242.4 1714.9,1237.6 1724.4,1226.4 1734,1226.4 1743.6,1229.5 1753.1,1246.2 1762.7,1249.5 1772.2,1208.1 1781.8,1212.1 1791.3,1222.4 1800.9,1211 1810.5,1220.5 1820,1191.4 1829.6,1195.5 1839.1,1162.1 1848.7,1177.1 1858.2,1196.2 1867.8,1202.6 1877.4,1209.8 1886.9,1190 1896.5,1178.8 1906,1176.4 1915.6,1172.9 1925.1,1170 1934.7,1168.1 1944.3,1154.3 1953.8,1140.7 1963.4,1151.4 1972.9,1176.4 1982.5,1189 1992,1183.6 2001.6,1196.7 2011.2,1205.7 2020.7,1177.6 2030.3,1180.5 2039.8,1174 2049.4,1193.8 2058.9,1213.8 2068.5,1213.8 2078.1,1216.9 2087.6,1208.6 2097.2,1191.9 2106.7,1193.8 2116.3,1204.3 2125.8,1203.8 2135.4,1200.2 2145,1179.5 2154.5,1181.2 2164.1,1150.2 2173.6,1161 2183.2,1154.3 2192.7,1143.8 2202.3,1143.1 2211.9,1172.9 2221.4,1140.7 2231,1144.3 2240.5,1139 2250.1,1136 2259.6,1121.7 2269.2,1134.3" fill="none" stroke="#c3d9f5" stroke-width="3.6" stroke-linejoin="round" stroke-linecap="round"/>
</g>
<path d="M2380.5 51V1375M20 1323.5H2541" stroke="#2b2f3a" stroke-width="1.5" fill="none"/>
<rect x="19" y="1077" width="2522" height="2.2" fill="#f4f4f6"/>
<rect x="2387" y="59" width="146" height="48.5" rx="7" fill="#0f0f11" stroke="#30353b" stroke-width="1.6"/>
<text x="2404.5" y="90.9" font-size="23.2" fill="#ececec" stroke="#ececec" stroke-width="0.7" textLength="58.7" lengthAdjust="spacingAndGlyphs">USDT</text>
<text x="2397" y="157.4" font-size="23.5" fill="#b2b5be" textLength="124.7" lengthAdjust="spacing">120,000.00</text>
<text x="2397" y="220.8" font-size="23.5" fill="#b2b5be" textLength="124.7" lengthAdjust="spacing">115,000.00</text>
<text x="2397" y="284.2" font-size="23.5" fill="#b2b5be" textLength="124.7" lengthAdjust="spacing">110,000.00</text>
<text x="2397" y="347.6" font-size="23.5" fill="#b2b5be" textLength="124.7" lengthAdjust="spacing">105,000.00</text>
<text x="2397" y="411" font-size="23.5" fill="#b2b5be" textLength="124.7" lengthAdjust="spacing">100,000.00</text>
<text x="2397" y="474.4" font-size="23.5" fill="#b2b5be" textLength="110.8" lengthAdjust="spacing">95,000.00</text>
<text x="2397" y="537.8" font-size="23.5" fill="#b2b5be" textLength="110.8" lengthAdjust="spacing">90,000.00</text>
<text x="2397" y="601.2" font-size="23.5" fill="#b2b5be" textLength="110.8" lengthAdjust="spacing">85,000.00</text>
<text x="2397" y="664.6" font-size="23.5" fill="#b2b5be" textLength="110.8" lengthAdjust="spacing">80,000.00</text>
<text x="2397" y="791.4" font-size="23.5" fill="#b2b5be" textLength="110.8" lengthAdjust="spacing">70,000.00</text>
<text x="2397" y="854.8" font-size="23.5" fill="#b2b5be" textLength="110.8" lengthAdjust="spacing">65,000.00</text>
<text x="2397" y="918.2" font-size="23.5" fill="#b2b5be" textLength="110.8" lengthAdjust="spacing">60,000.00</text>
<text x="2397" y="981.6" font-size="23.5" fill="#b2b5be" textLength="110.8" lengthAdjust="spacing">55,000.00</text>
<text x="2397" y="1045" font-size="23.5" fill="#b2b5be" textLength="110.8" lengthAdjust="spacing">50,000.00</text>
<path d="M2380.5 690H2517a3 3 0 0 1 3 3V745a3 3 0 0 1 -3 3H2380.5Z" fill="#5d616b"/>
<text x="2396.8" y="712.5" font-size="23.5" fill="#ffffff" textLength="111.1" lengthAdjust="spacing">76,228.79</text>
<text x="2398.6" y="738.9" font-size="23.5" fill="#e6e8ee" textLength="92.1" lengthAdjust="spacing">11:44:31</text>
<text x="2396.2" y="1155.4" font-size="23.5" fill="#b2b5be" textLength="62" lengthAdjust="spacing">60.00</text>
<text x="2396.2" y="1225.8" font-size="23.5" fill="#b2b5be" textLength="62" lengthAdjust="spacing">40.00</text>
<text x="2396.2" y="1295" font-size="23.5" fill="#b2b5be" textLength="62" lengthAdjust="spacing">20.00</text>
<text x="60.5" y="1359" font-size="23.3" fill="#b2b5be" textLength="40" lengthAdjust="spacingAndGlyphs">Sep</text>
<text x="348.6" y="1359" font-size="23.3" fill="#b2b5be" textLength="37.5" lengthAdjust="spacingAndGlyphs">Oct</text>
<text x="643" y="1359" font-size="23.3" fill="#b2b5be" textLength="41" lengthAdjust="spacingAndGlyphs">Nov</text>
<text x="930.5" y="1359" font-size="23.3" fill="#b2b5be" textLength="40.1" lengthAdjust="spacingAndGlyphs">Dec</text>
<text x="1217.5" y="1359" font-size="23.3" font-weight="bold" fill="#b2b5be" textLength="58.7" lengthAdjust="spacingAndGlyphs">2026</text>
<text x="1523.6" y="1359" font-size="23.3" fill="#b2b5be" textLength="38.1" lengthAdjust="spacingAndGlyphs">Feb</text>
<text x="1790.3" y="1359" font-size="23.3" fill="#b2b5be" textLength="39.7" lengthAdjust="spacingAndGlyphs">Mar</text>
<text x="2088.3" y="1359" font-size="23.3" fill="#b2b5be" textLength="36.7" lengthAdjust="spacingAndGlyphs">Apr</text>
<g fill="#dcdcdc"><path d="M22.7 1417H45.2V1445.7H33.8V1428.8H22.7Z"/><circle cx="54.6" cy="1423" r="5.7"/><path d="M65.3 1417H79.4L67.9 1445.7H55Z"/></g>
<text x="93" y="1445.8" font-size="40" font-weight="bold" fill="#dcdcdc" textLength="227.8" lengthAdjust="spacingAndGlyphs">TradingView</text>
</svg></body></html>
